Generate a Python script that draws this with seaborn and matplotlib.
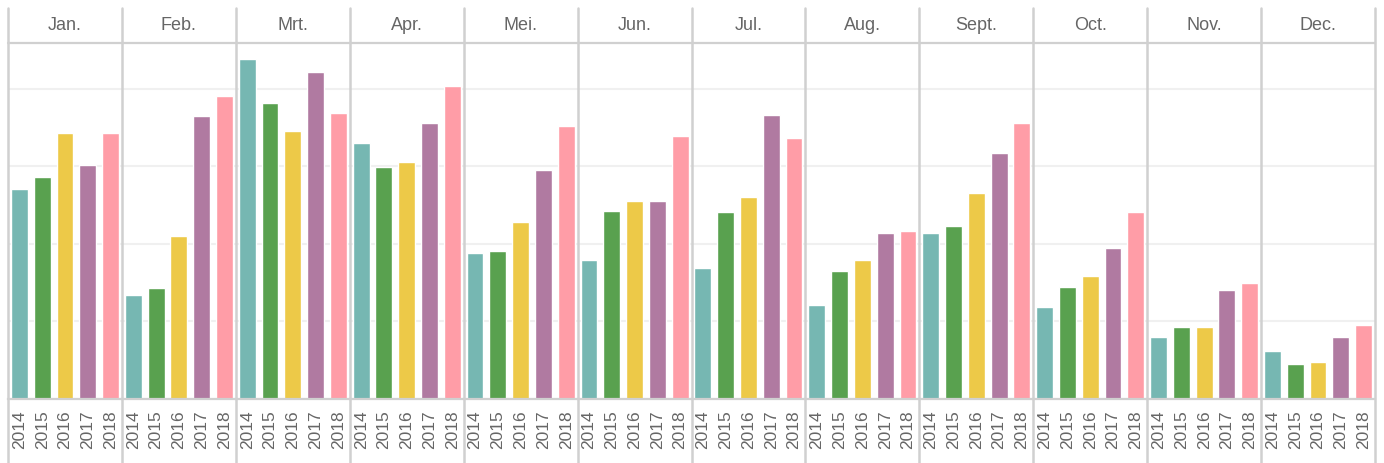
import matplotlib
matplotlib.use("Agg")
import matplotlib.pyplot as plt
from matplotlib.lines import Line2D
import seaborn as sns
import pandas as pd

months = ["Jan.", "Feb.", "Mrt.", "Apr.", "Mei.", "Jun.", "Jul.",
          "Aug.", "Sept.", "Oct.", "Nov.", "Dec."]
years = ["2014", "2015", "2016", "2017", "2018"]

# monthly values per year (rows = months, columns = 2014..2018)
values_2014 = [27.1, 13.4, 43.9, 33.0, 18.8, 17.9, 16.9, 12.1, 21.4, 11.9, 8.0, 6.2]
values_2015 = [28.6, 14.3, 38.2, 29.9, 19.1, 24.3, 24.1, 16.5, 22.3, 14.5, 9.3, 4.5]
values_2016 = [34.3, 21.0, 34.6, 30.6, 22.8, 25.5, 26.1, 17.9, 26.5, 15.9, 9.3, 4.8]
values_2017 = [30.2, 36.5, 42.2, 35.6, 29.5, 25.5, 36.6, 21.4, 31.7, 19.5, 14.1, 8.0]
values_2018 = [34.3, 39.1, 36.9, 40.4, 35.2, 33.9, 33.7, 21.7, 35.6, 24.1, 15.0, 9.5]

palette = ["#76B7B2", "#59A14F", "#EDC948", "#B07AA1", "#FF9DA7"]

series = [values_2014, values_2015, values_2016, values_2017, values_2018]
rows = []
for yi, yr in enumerate(years):
    for mi, m in enumerate(months):
        rows.append({"month": m, "year": yr, "value": series[yi][mi]})
df = pd.DataFrame(rows)

sns.set_theme(style="white")
plt.rcParams["font.family"] = ["Liberation Sans", "DejaVu Sans"]

W, H = 1384, 463
fig = plt.figure(figsize=(W / 100, H / 100), dpi=100)

left_px, right_px = 8, 1375
header_top_px, plot_top_px, base_px = 8, 43, 399
panel_w = (right_px - left_px) / len(months)

line_col = "#d0d0d0"
text_col = "#666666"

for i, m in enumerate(months):
    x0 = left_px + i * panel_w
    ax = fig.add_axes([x0 / W, 1 - base_px / H, panel_w / W, (base_px - plot_top_px) / H])
    sub = df[df["month"] == m]
    sns.barplot(data=sub, x="year", y="value", hue="year", palette=palette,
                order=years, hue_order=years, width=0.74, saturation=1,
                legend=False, ax=ax)
    ax.set_xlim(-0.5, 4.5)
    ax.set_ylim(0, 45.9)
    ax.set_yticks([10, 20, 30, 40])
    ax.set_yticklabels([])
    ax.yaxis.grid(True, color="#f0f0f0", lw=1.5)
    ax.set_axisbelow(True)
    ax.tick_params(axis="y", length=0)
    ax.tick_params(axis="x", length=0, labelrotation=90, labelsize=12.5,
                   labelcolor=text_col, pad=8)
    ax.set_xticks(range(5), minor=False)
    ax.set_xticks([0.5, 1.5, 2.5, 3.5], minor=True)
    ax.tick_params(axis="x", which="minor", length=6, width=1, color="#ececec")
    ax.set_xlabel("")
    ax.set_ylabel("")
    for s in ["top", "left", "right"]:
        ax.spines[s].set_visible(False)
    ax.spines["bottom"].set_color(line_col)
    ax.spines["bottom"].set_linewidth(1.6)
    ax.patch.set_alpha(0)

    # month header
    fig.text((x0 + panel_w / 2) / W, 1 - (header_top_px + plot_top_px) / 2 / H, m,
             ha="center", va="center", fontsize=13, color=text_col)

# panel separators spanning header and tick area
for i in range(len(months) + 1):
    x = (left_px + i * panel_w) / W
    fig.add_artist(Line2D([x, x], [0, 1 - header_top_px / H], transform=fig.transFigure,
                          color=line_col, lw=1.8))

# header bottom rule
fig.add_artist(Line2D([left_px / W, right_px / W], [1 - plot_top_px / H] * 2,
                      transform=fig.transFigure, color=line_col, lw=1.6))

fig.savefig("out.png", dpi=100, facecolor="white")
